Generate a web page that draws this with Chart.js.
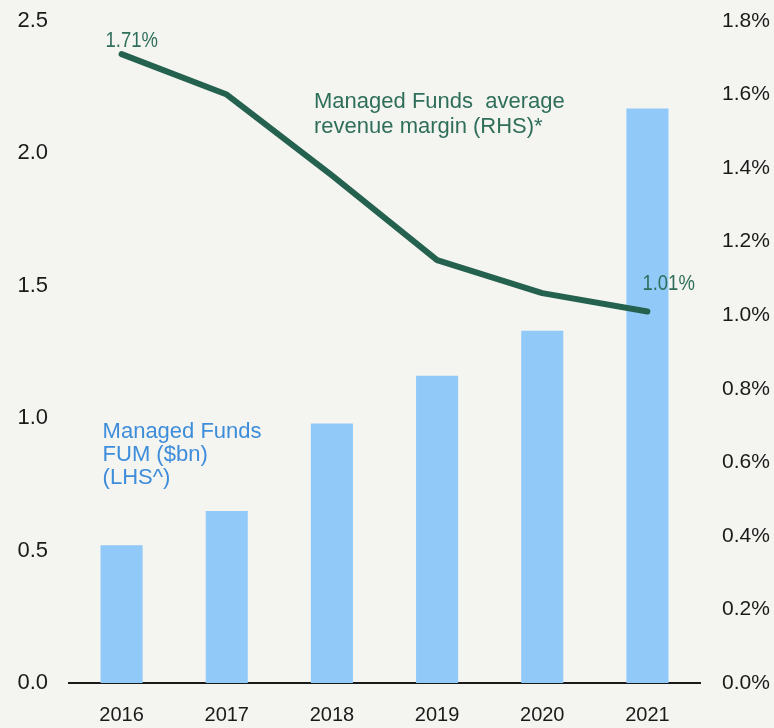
<!DOCTYPE html>
<html>
<head>
<meta charset="utf-8">
<script src="https://cdn.jsdelivr.net/npm/chart.js@4"></script>
<style>
  html, body { margin: 0; padding: 0; background: #f4f4f0; }
  #wrap { width: 774px; height: 728px; }
</style>
</head>
<body>
<div id="wrap"><canvas id="chart" width="774" height="728"></canvas></div>
<script>
var years = ['2016', '2017', '2018', '2019', '2020', '2021'];
var fum = [0.52, 0.65, 0.98, 1.16, 1.33, 2.17];          // $bn, LHS
var margin = [1.71, 1.60, 1.38, 1.15, 1.06, 1.01];       // %, RHS
var leftTicks = [0, 0.5, 1.0, 1.5, 2.0, 2.5];
var rightTicks = [0, 0.2, 0.4, 0.6, 0.8, 1.0, 1.2, 1.4, 1.6, 1.8];

var FONT = '"Liberation Sans", Arial, sans-serif';
var green = '#24614f';
var blue = '#3d8ddb';

// narrow-ish value label: squeeze horizontally a bit
function valueText(c, txt, x, y) {
    c.save();
    c.translate(x, y);
    c.scale(0.84, 1);
    c.fillText(txt, 0, 0);
    c.restore();
}

var labels = {
    id: 'labels',
    afterDatasetsDraw: function (chart) {
        var c = chart.ctx;
        var x = chart.scales.x, yr = chart.scales.yR, yl = chart.scales.yL;
        c.save();
        c.textBaseline = 'middle';
        c.textAlign = 'left';
        // first and last line values
        c.fillStyle = '#2e6e5a';
        c.font = '22px ' + FONT;
        valueText(c, margin[0].toFixed(2) + '%', x.getPixelForValue(0) - 16, yr.getPixelForValue(margin[0]) - 13);
        valueText(c, margin[5].toFixed(2) + '%', x.getPixelForValue(5) - 5, yr.getPixelForValue(margin[5]) - 28);
        // series captions
        c.fillText('Managed Funds  average', x.getPixelForValue(1.83), yr.getPixelForValue(1.60) + 7);
        c.fillText('revenue margin (RHS)*', x.getPixelForValue(1.83), yr.getPixelForValue(1.60) + 32);
        c.fillStyle = blue;
        c.fillText('Managed Funds', x.getPixelForValue(0) - 19, yl.getPixelForValue(0.95));
        c.fillText('FUM ($bn)', x.getPixelForValue(0) - 19, yl.getPixelForValue(0.95) + 23);
        c.fillText('(LHS^)', x.getPixelForValue(0) - 19, yl.getPixelForValue(0.95) + 46);
        c.restore();
    }
};

function noPad(s) { s.paddingTop = 0; s.paddingBottom = 0; }

var ctx = document.getElementById('chart').getContext('2d');
var myChart = new Chart(ctx, {
    type: 'bar',
    data: {
        labels: years,
        datasets: [{
            type: 'line',
            label: 'Managed Funds average revenue margin (RHS)*',
            data: margin,
            yAxisID: 'yR',
            borderColor: green,
            borderWidth: 6,
            borderCapStyle: 'round',
            borderJoinStyle: 'round',
            pointRadius: 0,
            tension: 0,
            order: 0
        }, {
            label: 'Managed Funds FUM ($bn) (LHS^)',
            data: fum,
            yAxisID: 'yL',
            backgroundColor: '#91caf8',
            barPercentage: 0.4,
            categoryPercentage: 1.0,
            order: 1
        }]
    },
    options: {
        responsive: false,
        animation: false,
        layout: { padding: { top: 21, bottom: 0, left: 0, right: 0 } },
        plugins: { legend: { display: false }, tooltip: { enabled: false } },
        scales: {
            x: {
                grid: { display: false, drawTicks: false },
                border: { display: true, color: '#1a1a1a', width: 2 },
                afterFit: function (s) { s.height = 45; },
                ticks: { color: '#1a1a1a', font: { family: FONT, size: 20 }, padding: 20 }
            },
            yL: {
                position: 'left',
                min: 0, max: 2.5,
                grid: { display: false, drawTicks: false },
                border: { display: false },
                afterBuildTicks: function (s) { s.ticks = leftTicks.map(function (v) { return { value: v }; }); },
                afterFit: function (s) { s.width = 69; noPad(s); },
                ticks: {
                    color: '#1a1a1a', padding: 21,
                    font: { family: FONT, size: 22 },
                    callback: function (v) { return v.toFixed(1); }
                }
            },
            yR: {
                position: 'right',
                min: 0, max: 1.8,
                grid: { display: false, drawTicks: false },
                border: { display: false },
                afterBuildTicks: function (s) { s.ticks = rightTicks.map(function (v) { return { value: v }; }); },
                afterFit: function (s) { s.width = 74; noPad(s); },
                ticks: {
                    color: '#1a1a1a', padding: 22,
                    font: { family: FONT, size: 21 },
                    callback: function (v) { return v.toFixed(1) + '%'; }
                }
            }
        }
    },
    plugins: [labels]
});
</script>
</body>
</html>
